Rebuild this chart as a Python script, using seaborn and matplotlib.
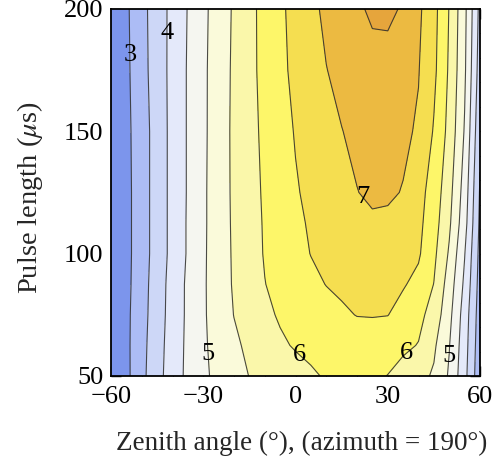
import numpy as np
import matplotlib
matplotlib.use("Agg")
import matplotlib.pyplot as plt
import seaborn as sns
from matplotlib.ticker import MultipleLocator, FixedLocator

# Grid of zenith angles (deg) and pulse lengths (us)
zenith = [-60, -55, -50, -45, -40, -35, -30, -25, -20, -15, -10, -5, 0,
          5, 10, 15, 20, 25, 30, 35, 40, 45, 50, 55, 60]
pulse = [50, 62.5, 75, 87.5, 100, 112.5, 125, 150, 175, 200]

# Field value along zenith for each pulse length
row_050 = [2.40, 2.88, 3.37, 3.83, 4.25, 4.61, 4.91, 5.13, 5.32, 5.51, 5.62, 5.72, 5.83,
           5.94, 6.04, 6.13, 6.18, 6.09, 5.99, 5.83, 5.65, 5.44, 4.94, 4.15, 3.15]
row_062 = [2.44, 2.89, 3.35, 3.80, 4.23, 4.60, 4.93, 5.18, 5.41, 5.60, 5.76, 5.93, 6.04,
           6.11, 6.18, 6.25, 6.32, 6.29, 6.19, 6.09, 5.98, 5.58, 5.02, 4.21, 3.20]
row_075 = [2.45, 2.89, 3.32, 3.77, 4.20, 4.59, 4.94, 5.23, 5.51, 5.70, 5.90, 6.05, 6.15,
           6.25, 6.35, 6.45, 6.51, 6.52, 6.51, 6.33, 6.13, 5.81, 5.14, 4.27, 3.25]
row_088 = [2.45, 2.87, 3.30, 3.75, 4.19, 4.59, 4.94, 5.25, 5.55, 5.77, 5.99, 6.13, 6.27,
           6.40, 6.51, 6.56, 6.61, 6.66, 6.60, 6.54, 6.37, 5.99, 5.27, 4.40, 3.30]
row_100 = [2.44, 2.86, 3.28, 3.71, 4.15, 4.55, 4.93, 5.26, 5.56, 5.80, 6.03, 6.20, 6.36,
           6.51, 6.58, 6.65, 6.72, 6.79, 6.72, 6.63, 6.56, 6.11, 5.44, 4.52, 3.35]
row_112 = [2.44, 2.86, 3.28, 3.71, 4.15, 4.55, 4.92, 5.27, 5.57, 5.82, 6.04, 6.23, 6.41,
           6.55, 6.64, 6.75, 6.86, 6.94, 6.92, 6.74, 6.62, 6.21, 5.58, 4.69, 3.40]
row_125 = [2.44, 2.86, 3.28, 3.71, 4.15, 4.54, 4.92, 5.27, 5.58, 5.83, 6.06, 6.26, 6.46,
           6.60, 6.74, 6.88, 6.99, 7.07, 7.06, 6.98, 6.67, 6.29, 5.67, 4.78, 3.45]
row_150 = [2.48, 2.88, 3.28, 3.71, 4.15, 4.54, 4.91, 5.26, 5.59, 5.85, 6.10, 6.32, 6.53,
           6.69, 6.84, 6.99, 7.09, 7.18, 7.18, 7.08, 6.95, 6.46, 5.85, 4.96, 3.60]
row_175 = [2.47, 2.90, 3.33, 3.74, 4.15, 4.54, 4.91, 5.25, 5.58, 5.87, 6.14, 6.39, 6.61,
           6.80, 6.99, 7.11, 7.22, 7.33, 7.32, 7.17, 7.02, 6.61, 5.93, 5.08, 3.75]
row_200 = [2.49, 2.92, 3.35, 3.75, 4.14, 4.52, 4.89, 5.23, 5.56, 5.87, 6.15, 6.41, 6.66,
           6.89, 7.09, 7.25, 7.42, 7.58, 7.60, 7.45, 7.09, 6.66, 5.98, 5.13, 3.85]

levels = [3.0, 3.5, 4.0, 4.5, 5.0, 5.5, 6.0, 6.5, 7.0, 7.5]
band_colors = ["#7c95ec", "#acbcf5", "#cdd7f7", "#e4e9fa", "#f5f6f0", "#fafada",
               "#faf7aa", "#fdf669", "#f5de50", "#ecba41", "#e6a53c"]

# Labelled contours: (level, zenith, pulse length) near each label
label_spots = [(3.0, -54.5, 181), (4.0, -42.1, 190), (5.0, -29.1, 59),
               (5.0, 50.9, 58), (6.0, 0.2, 57), (6.0, 37.9, 57), (7.0, 21.6, 123)]

Z = np.array([row_050, row_062, row_075, row_088, row_100,
              row_112, row_125, row_150, row_175, row_200])
X, Y = np.meshgrid(zenith, pulse)

sns.set_theme(style="ticks")
plt.rcParams["font.family"] = ["Liberation Serif", "DejaVu Serif"]
plt.rcParams["mathtext.fontset"] = "stix"

fig = plt.figure(figsize=(5.04, 4.66), dpi=100)
ax = fig.add_axes([111 / 504, 1 - 376 / 466, 369 / 504, 367 / 466])

fill_levels = [Z.min() - 1] + levels + [Z.max() + 1]
ax.contourf(X, Y, Z, levels=fill_levels, colors=band_colors)
ax.contour(X, Y, Z, levels=levels, colors="#2b2b2b", linewidths=0.8, alpha=0.85)

by_level = {}
for lev, zx, py in label_spots:
    by_level.setdefault(lev, []).append((zx, py))
for lev, spots in by_level.items():
    sub = ax.contour(X, Y, Z, levels=[lev], colors="none")
    txts = ax.clabel(sub, levels=[lev], manual=spots, inline=False,
                     fmt=lambda v: f"{v:g}", fontsize=19, colors="black")
    for t in txts:
        t.set_rotation(0)

ax.set_xlim(-60, 60)
ax.set_ylim(50, 200)
ax.xaxis.set_major_locator(FixedLocator([-60, -30, 0, 30, 60]))
ax.xaxis.set_minor_locator(MultipleLocator(10))
ax.yaxis.set_major_locator(FixedLocator([50, 100, 150, 200]))
ax.yaxis.set_minor_locator(MultipleLocator(10))
ax.set_xticklabels(["\u221260", "\u221230", "0", "30", "60"])
ax.tick_params(which="both", direction="in", top=True, right=True,
               colors="black", labelsize=19)
ax.tick_params(axis="x", which="both", pad=7)
ax.tick_params(axis="y", which="both", pad=5.5)
ax.tick_params(which="major", length=7, width=1.0)
ax.tick_params(which="minor", length=4, width=0.8)
for sp in ax.spines.values():
    sp.set_color("black")
    sp.set_linewidth(1.3)

ax.set_xlabel("Zenith angle (\u00b0), (azimuth = 190\u00b0)", fontsize=19.5)
ax.xaxis.set_label_coords(0.516, -0.150)
ax.set_ylabel(r"Pulse length ($\mu$s)", fontsize=20.5)
ax.yaxis.set_label_coords(-0.178, 0.485)

fig.savefig("out.png", dpi=100)
